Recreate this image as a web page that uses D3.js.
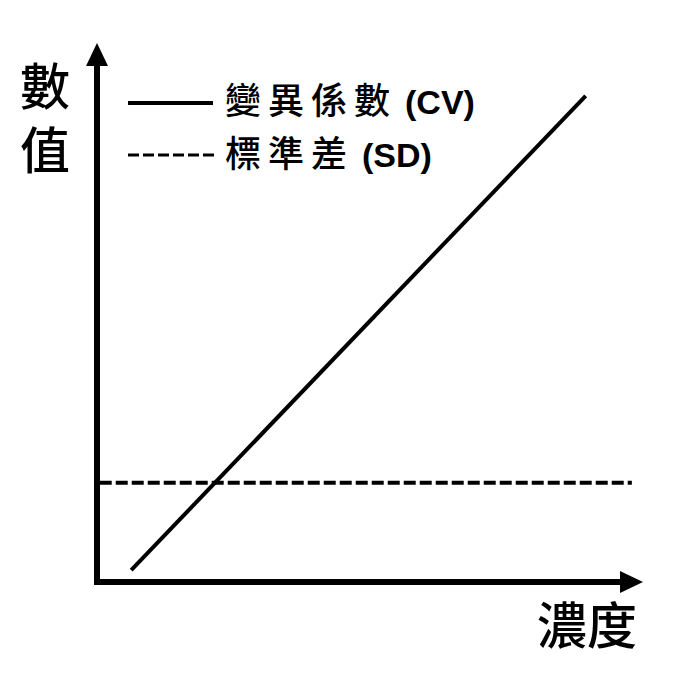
<!DOCTYPE html>
<html>
<head>
<meta charset="utf-8">
<script src="https://cdn.jsdelivr.net/npm/d3@7"></script>
<style>
  html, body { margin: 0; padding: 0; background: #fff; }
  svg { display: block; }
</style>
</head>
<body>
<div id="chart"></div>
<script>
"use strict";

// data (concentration 0-100, value 0-100)
var cvConc = [6.3, 90];
var cvValues = [2.2, 90.2];
var sdConc = [0.5, 98.5];
var sdValues = [18.4, 18.4];
var legendLabels = [
    { cjk: "變異係數", latin: "(CV)", dash: null },
    { cjk: "標準差", latin: "(SD)", dash: "11,4" }
];
var yLabel = "數值";
var xLabel = "濃度";

var width = 673, height = 685;
var origin = { x: 97, y: 582 };

var x = d3.scaleLinear().domain([0, 100]).range([origin.x, 640]);
var y = d3.scaleLinear().domain([0, 100]).range([origin.y, 43]);

var cjkFont = "'Noto Sans CJK TC', 'Noto Sans CJK SC', sans-serif";
var latinFont = "'Liberation Sans', Arial, sans-serif";

var svg = d3.select("#chart").append("svg")
    .attr("width", width)
    .attr("height", height);

// axes with arrow heads
var axes = svg.append("g").attr("class", "axes");
axes.append("line")
    .attr("x1", origin.x).attr("y1", origin.y + 3)
    .attr("x2", origin.x).attr("y2", y(100) + 20)
    .attr("stroke", "#000").attr("stroke-width", 6);
axes.append("line")
    .attr("x1", origin.x - 3).attr("y1", origin.y)
    .attr("x2", x(100) - 20).attr("y2", origin.y)
    .attr("stroke", "#000").attr("stroke-width", 6);
axes.append("path")
    .attr("d", "M" + origin.x + "," + y(100) + "L" + (origin.x - 11) + "," + (y(100) + 23)
        + "L" + (origin.x + 11) + "," + (y(100) + 23) + "Z")
    .attr("fill", "#000");
axes.append("path")
    .attr("d", "M" + (x(100) + 3) + "," + origin.y + "L" + (x(100) - 20) + "," + (origin.y - 11)
        + "L" + (x(100) - 20) + "," + (origin.y + 11) + "Z")
    .attr("fill", "#000");

var line = d3.line()
    .x(function (d) { return x(d[0]); })
    .y(function (d) { return y(d[1]); });

// SD (dashed)
svg.append("path")
    .datum(d3.zip(sdConc, sdValues))
    .attr("d", line)
    .attr("fill", "none")
    .attr("stroke", "#000")
    .attr("stroke-width", 4)
    .attr("stroke-dasharray", "12,4");

// CV (solid)
svg.append("path")
    .datum(d3.zip(cvConc, cvValues))
    .attr("d", line)
    .attr("fill", "none")
    .attr("stroke", "#000")
    .attr("stroke-width", 4);

// legend
var lx = 128, ly = [103, 155], textY = [114, 167];
var legend = svg.append("g").attr("class", "legend");

legend.selectAll("line")
    .data(legendLabels)
    .enter()
    .append("line")
    .attr("x1", lx).attr("x2", function (d) { return lx + (d.dash ? 87 : 85); })
    .attr("y1", function (d, i) { return ly[i]; })
    .attr("y2", function (d, i) { return ly[i]; })
    .attr("stroke", "#000")
    .attr("stroke-width", function (d) { return d.dash ? 3 : 4; })
    .attr("stroke-dasharray", function (d) { return d.dash; });

var ltext = legend.selectAll("text")
    .data(legendLabels)
    .enter()
    .append("text")
    .attr("x", lx + 97)
    .attr("y", function (d, i) { return textY[i]; })
    .attr("fill", "#000");
ltext.append("tspan")
    .style("font-family", cjkFont)
    .style("font-size", "36px")
    .style("font-weight", 500)
    .style("letter-spacing", "7px")
    .text(function (d) { return d.cjk; });
ltext.append("tspan")
    .attr("dx", 8)
    .style("font-family", latinFont)
    .style("font-size", "34px")
    .style("font-weight", "bold")
    .text(function (d) { return d.latin; });

// y label (stacked vertically)
svg.append("text")
    .attr("x", 45)
    .attr("y", 61)
    .style("writing-mode", "vertical-rl")
    .style("font-family", cjkFont)
    .style("font-size", "50px")
    .style("font-weight", 500)
    .style("letter-spacing", "14px")
    .text(yLabel);

// x label
svg.append("text")
    .attr("x", 637)
    .attr("y", 644)
    .attr("text-anchor", "end")
    .style("font-family", cjkFont)
    .style("font-size", "50px")
    .style("font-weight", 500)
    .text(xLabel);
</script>
</body>
</html>
